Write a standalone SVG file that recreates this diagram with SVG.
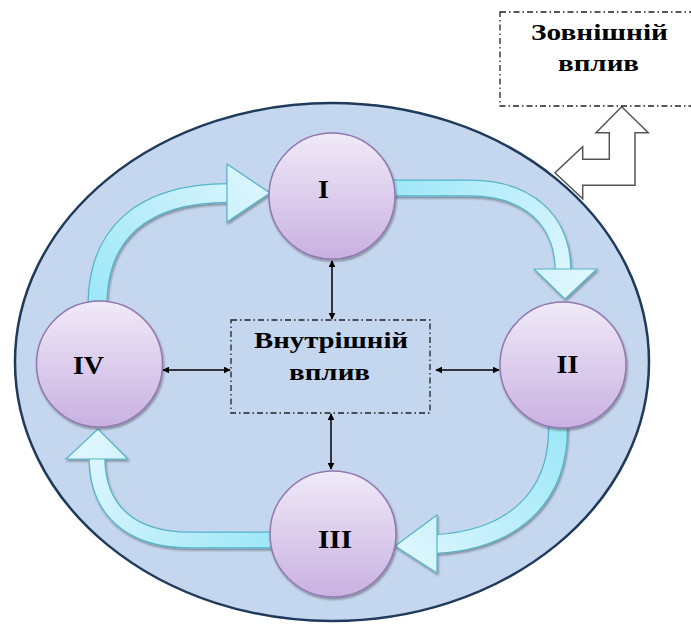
<svg xmlns="http://www.w3.org/2000/svg" width="691" height="625" viewBox="0 0 691 625">
<defs>
<style>
.lbl{font-family:"Liberation Serif","Times New Roman",serif;font-weight:bold;fill:#000;text-anchor:middle}
.num{font-size:25px}
.box{font-size:24px}
.node{stroke:#9277b0;stroke-width:1.5;fill:url(#gc)}
.dash{fill:none;stroke:#222;stroke-width:1.3;stroke-dasharray:6 3 1.5 3}
.con{stroke:#000;stroke-width:1.5;fill:none;marker-start:url(#ah);marker-end:url(#ah)}
.edge{fill:none;stroke:#56b3c9}
.head{stroke:#56b3c9;stroke-width:1.2;stroke-linejoin:miter}
</style>
<linearGradient id="gc" x1="0" y1="0" x2="0" y2="1">
<stop offset="0" stop-color="#f0eaf8"/>
<stop offset="1" stop-color="#c9b1e1"/>
</linearGradient>
<linearGradient id="g1" gradientUnits="userSpaceOnUse" x1="97" y1="300" x2="270" y2="180">
<stop offset="0" stop-color="#9fe8f8"/>
<stop offset="1" stop-color="#def6fd"/>
</linearGradient>
<linearGradient id="g2" gradientUnits="userSpaceOnUse" x1="394" y1="188" x2="565" y2="300">
<stop offset="0" stop-color="#9fe8f8"/>
<stop offset="1" stop-color="#def6fd"/>
</linearGradient>
<linearGradient id="g3" gradientUnits="userSpaceOnUse" x1="558" y1="430" x2="395" y2="546">
<stop offset="0" stop-color="#9fe8f8"/>
<stop offset="1" stop-color="#def6fd"/>
</linearGradient>
<linearGradient id="g4" gradientUnits="userSpaceOnUse" x1="270" y1="540" x2="98" y2="429">
<stop offset="0" stop-color="#9fe8f8"/>
<stop offset="1" stop-color="#def6fd"/>
</linearGradient>
<filter id="sh" x="-10%" y="-10%" width="130%" height="130%">
<feDropShadow dx="1" dy="2" stdDeviation="1.2" flood-color="#000" flood-opacity="0.35"/>
</filter>
<marker id="ah" viewBox="0 0 10 10" refX="9" refY="5" markerWidth="7" markerHeight="7" markerUnits="userSpaceOnUse" orient="auto-start-reverse">
<path d="M0 0 L10 5 L0 10 Z" fill="#000"/>
</marker>
</defs>

<g id="system">
<ellipse cx="332" cy="362" rx="317" ry="259" fill="#c5d7ee" stroke="#1f3a5a" stroke-width="2.5"/>
</g>

<g id="external-arrow">
<path d="M621.7 106.7 L648.3 132.7 L635 132.7 L635 185.3 L582.7 185.3 L582.7 198.7 L555 172.7 L582.7 146.7 L582.7 159.3 L609.3 159.3 L609.3 132.7 L596 132.7 Z" fill="#fff" stroke="#555" stroke-width="1.5" stroke-linejoin="miter"/>
</g>

<g id="external">
<rect x="500" y="12" width="192" height="94" class="dash" fill="#fff"/>
<text class="lbl box" x="599.5" y="39.5" textLength="137" lengthAdjust="spacingAndGlyphs">Зовнішній</text>
<text class="lbl box" x="598.5" y="71" textLength="81" lengthAdjust="spacingAndGlyphs">вплив</text>
</g>

<g id="cycle">
<g id="arrow-IV-I" filter="url(#sh)">
<path class="edge" stroke-width="20" d="M97.5 306 C97.5 235 140 193 229 193"/>
<path fill="none" stroke="url(#g1)" stroke-width="17.5" d="M97.5 306 C97.5 235 140 193 229 193"/>
<polygon class="head" fill="url(#g1)" points="227,164 270,193 227,222"/>
</g>
<g id="arrow-I-II" filter="url(#sh)">
<path class="edge" stroke-width="17" d="M388 188 L470 188 C530 188 563 222 563 271"/>
<path fill="none" stroke="url(#g2)" stroke-width="14.5" d="M388 188 L470 188 C530 188 563 222 563 271"/>
<polygon class="head" fill="url(#g2)" points="534,269 565,299 597,269"/>
</g>
<g id="arrow-II-III" filter="url(#sh)">
<path class="edge" stroke-width="20" d="M558 424 C560 500 510 540 435 544"/>
<path fill="none" stroke="url(#g3)" stroke-width="17.5" d="M558 424 C560 500 510 540 435 544"/>
<polygon class="head" fill="url(#g3)" points="437,515 395,546 437,573"/>
</g>
<g id="arrow-III-IV" filter="url(#sh)">
<path class="edge" stroke-width="17" d="M276 540 L190 540 C130 540 97 510 97 457"/>
<path fill="none" stroke="url(#g4)" stroke-width="14.5" d="M276 540 L190 540 C130 540 97 510 97 457"/>
<polygon class="head" fill="url(#g4)" points="66,459 98,429 128,459"/>
</g>
</g>

<g id="connectors">
<line class="con" x1="332" y1="261" x2="332" y2="319"/>
<line class="con" x1="331" y1="414" x2="331" y2="469"/>
<line class="con" x1="163" y1="370" x2="230" y2="370"/>
<line class="con" x1="436" y1="370" x2="499" y2="370"/>
</g>

<g id="node-I" filter="url(#sh)">
<circle class="node" cx="332" cy="196" r="63"/>
</g>
<text class="lbl num" x="323.5" y="198" textLength="11" lengthAdjust="spacingAndGlyphs">I</text>
<g id="node-II" filter="url(#sh)">
<circle class="node" cx="563" cy="365" r="63"/>
</g>
<text class="lbl num" x="567.5" y="373" textLength="22" lengthAdjust="spacingAndGlyphs">II</text>
<g id="node-III" filter="url(#sh)">
<circle class="node" cx="333" cy="534" r="63"/>
</g>
<text class="lbl num" x="335" y="548" textLength="34" lengthAdjust="spacingAndGlyphs">III</text>
<g id="node-IV" filter="url(#sh)">
<circle class="node" cx="99.5" cy="364" r="63"/>
</g>
<text class="lbl num" x="88.5" y="374" textLength="31" lengthAdjust="spacingAndGlyphs">IV</text>

<g id="internal">
<rect x="231" y="320" width="199" height="93" class="dash"/>
<text class="lbl box" x="331" y="348" textLength="154" lengthAdjust="spacingAndGlyphs">Внутрішній</text>
<text class="lbl box" x="329.5" y="380" textLength="81" lengthAdjust="spacingAndGlyphs">вплив</text>
</g>
</svg>
